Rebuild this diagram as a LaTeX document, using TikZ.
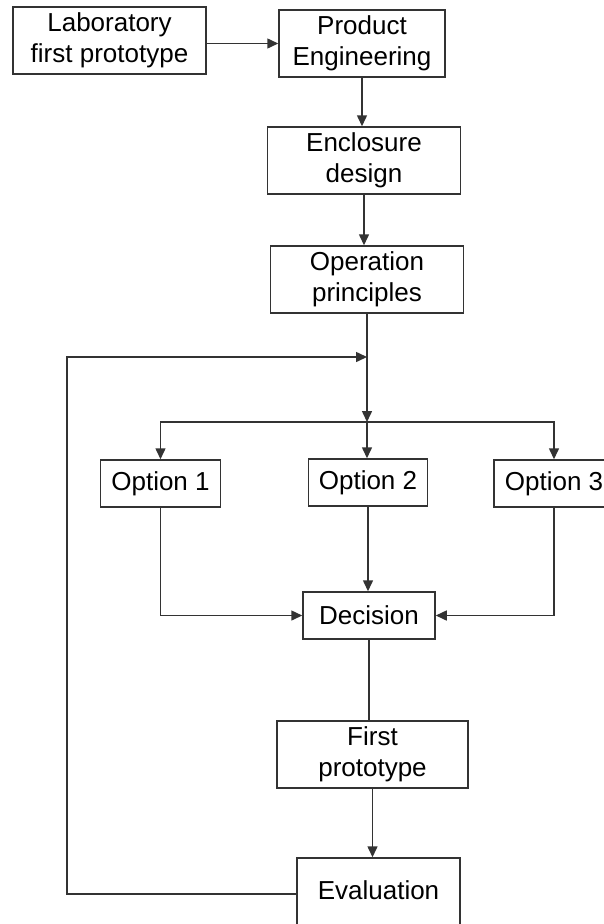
\documentclass[tikz,border=0pt]{standalone}
\usepackage{fontspec}
\setmainfont{Liberation Sans}
\usepackage{tikz}
\usetikzlibrary{arrows.meta}

\begin{document}
\begin{tikzpicture}[x=1pt, y=-1pt, line width=1.5pt, draw=black!80,
        >={Triangle[length=11pt, width=10pt]},
        stage/.style={rectangle, draw=black!80, fill=white, inner sep=0pt, align=center,
            minimum height=67pt, font=\fontsize{26}{31.5}\selectfont},
        choice/.style={stage, minimum height=47pt}]
        \useasboundingbox (0,0) rectangle (603,924);
        % Upper chain
        \node[stage, minimum width=193pt] (lab) at (109.5, 40.5) {Laboratory\\first prototype};
        \node[stage, minimum width=166pt] (prod) at (362, 43.5) {Product\\Engineering};
        \node[stage, minimum width=193pt] (encl) at (364, 160.5) {Enclosure\\design};
        \node[stage, minimum width=193pt] (oper) at (367, 279.5) {Operation\\principles};
        \coordinate (join) at (367, 357);
        \coordinate (split) at (367, 422);
        \coordinate (back) at (67, 357);
        % Options
        \node[choice, minimum width=120pt] (opt1) at (160.5, 483.5) {Option 1};
        \node[choice, minimum width=119pt] (opt2) at (368, 482.5) {Option 2};
        \node[choice, minimum width=120pt] (opt3) at (554, 483.5) {Option 3};
        % Lower chain
        \node[choice, minimum width=132pt] (dec) at (369, 615.5) {Decision};
        \node[stage, minimum width=191pt] (first) at (372.5, 754.5) {First\\prototype};
        \node[stage, minimum width=163pt, minimum height=70pt] (eval) at (378.5, 893) {\raisebox{6pt}{Evaluation}};
        \draw[->] (lab.east |- prod.west) -- (prod.west);
        \draw[->] (prod.south) -- (prod.south |- encl.north);
        \draw[->] (encl.south) -- (encl.south |- oper.north);
        \draw[-] (oper.south) -- (join);
        \draw[->] (join) -- (split);
        \draw[->] (split) -| (opt1.north);
        \draw[->] (split) -- (split |- opt2.north);
        \draw[->] (split) -| (opt3.north);
        \draw[->] (opt1.south) |- (dec.west);
        \draw[->] (opt2.south) -- (opt2.south |- dec.north);
        \draw[->] (opt3.south) |- (dec.east);
        \draw[-] (dec.south) -- (dec.south |- first.north);
        \draw[->] (first.south) -- (first.south |- eval.north);
        \draw[->] ([yshift=-1pt]eval.west) -| (back) |- (join);
    \end{tikzpicture}
\end{document}
